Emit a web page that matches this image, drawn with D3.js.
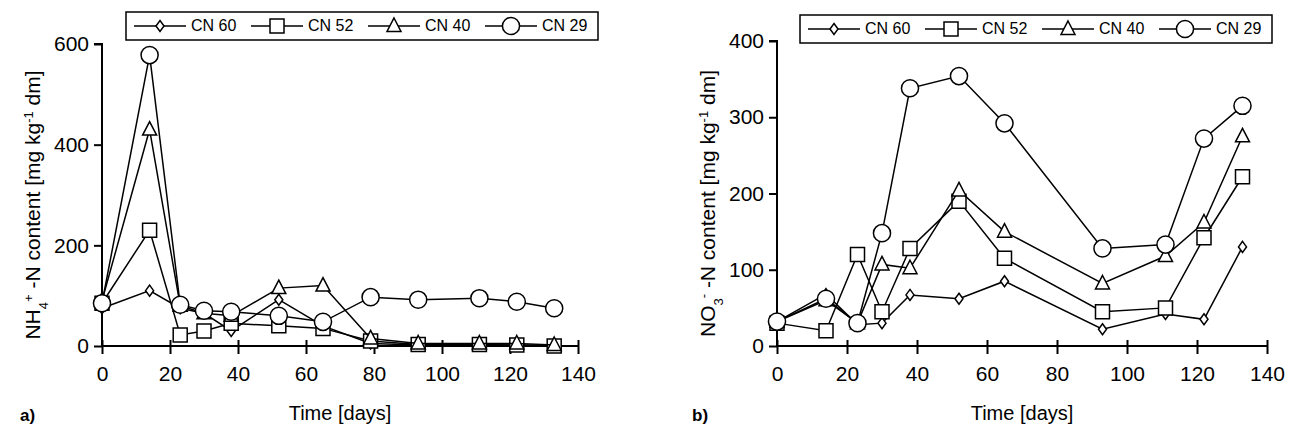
<!DOCTYPE html>
<html><head><meta charset="utf-8">
<script src="https://cdn.jsdelivr.net/npm/d3@7"></script>
<style>body{margin:0;background:#fff}text{font-family:"Liberation Sans Narrow","Liberation Sans",Arial,sans-serif;fill:#000}</style>
</head><body>
<svg id="chart" width="1290" height="430"></svg>
<script>
const seriesNames = ['CN 60', 'CN 52', 'CN 40', 'CN 29'];
const symbols = ['diamond', 'square', 'triangle', 'circle'];
const daysA = [0, 14, 23, 30, 38, 52, 65, 79, 93, 111, 122, 133];
const nh4 = [
  [75, 110, 75, 65, 30, 92, 40, 5, 2, 2, 2, 0],
  [85, 230, 22, 30, 45, 40, 35, 10, 3, 3, 2, 0],
  [90, 430, 80, 65, 60, 115, 120, 15, 5, 5, 5, 2],
  [85, 578, 82, 70, 68, 60, 48, 97, 92, 95, 88, 75]
];
const daysB = [0, 14, 23, 30, 38, 52, 65, 93, 111, 122, 133];
const no3 = [
  [32, 68, 28, 30, 67, 62, 85, 22, 42, 35, 130],
  [30, 20, 120, 45, 128, 190, 115, 45, 50, 142, 222],
  [32, 60, 30, 107, 102, 204, 150, 82, 118, 162, 275],
  [32, 62, 30, 148, 338, 354, 292, 128, 133, 272, 315]
];
const xTicks = [0, 20, 40, 60, 80, 100, 120, 140];

const svg = d3.select('#chart');

function symbolPath(kind) {
  if (kind === 'diamond') return 'M0,-5.5L4,0L0,5.5L-4,0Z';
  if (kind === 'square') return 'M-7,-7H7V7H-7Z';
  if (kind === 'triangle') return 'M0,-8L7,5.5H-7Z';
  return d3.symbol(d3.symbolCircle, 230)();
}

function panel(o) {
  const g = svg.append('g');
  const x = d3.scaleLinear().domain([0, 140]).range([o.x0, o.x1]);
  const y = d3.scaleLinear().domain([0, o.ymax]).range([346, o.ytop]);

  g.append('g').attr('transform', `translate(${o.x0},0)`)
    .call(d3.axisLeft(y).tickValues(o.yTicks).tickSize(8).tickPadding(5))
    .call(a => a.select('.domain').attr('stroke-width', 2).attr('d', `M-8,${o.ytop}H0V346`))
    .call(a => a.selectAll('.tick line').attr('stroke-width', 2))
    .call(a => a.selectAll('text').style('font-size', '21px'));

  g.append('g').attr('transform', 'translate(0,346)')
    .call(d3.axisBottom(x).tickValues(xTicks).tickSize(8).tickPadding(12))
    .call(a => a.select('.domain').attr('stroke-width', 2).attr('d', `M${o.x0},0H${o.x1}`))
    .call(a => a.selectAll('.tick line').attr('stroke-width', 2).attr('y1', -6))
    .call(a => a.selectAll('text').style('font-size', '21px'));

  o.data.forEach((vals, i) => {
    const pts = vals.map((v, j) => [x(o.days[j]), y(v)]);
    g.append('path').attr('d', d3.line()(pts)).attr('fill', 'none')
      .attr('stroke', '#000').attr('stroke-width', 1.5);
    g.selectAll(null).data(pts).join('path')
      .attr('transform', d => `translate(${d[0]},${d[1]})`)
      .attr('d', symbolPath(symbols[i]))
      .attr('fill', '#fff').attr('stroke', '#000').attr('stroke-width', 1.5);
  });

  g.append('text').attr('x', (o.x0 + o.x1) / 2).attr('y', 420)
    .attr('text-anchor', 'middle').style('font-size', '20px').text('Time [days]');
  g.append('text').attr('x', o.labelX).attr('y', 421)
    .style('font-size', '17px').style('font-weight', 'bold').text(o.letter);

  const yl = g.append('text').attr('transform', `translate(${o.x0 - 62},${(346 + o.ytop) / 2 + 10}) rotate(-90)`)
    .attr('text-anchor', 'middle').style('font-size', '21px');
  yl.append('tspan').text(o.ion[0]);
  yl.append('tspan').attr('baseline-shift', 'sub').style('font-size', '13px').text(o.ion[1]);
  yl.append('tspan').attr('baseline-shift', 'super').style('font-size', '13px').text(o.ion[2]);
  yl.append('tspan').text(' -N content [mg kg');
  yl.append('tspan').attr('baseline-shift', 'super').style('font-size', '13px').text('-1');
  yl.append('tspan').text('  dm]');

  const lg = g.append('g').attr('transform', `translate(${o.lx},${o.ly})`);
  lg.append('rect').attr('width', 472).attr('height', 28).attr('fill', '#fff')
    .attr('stroke', '#000').attr('stroke-width', 1.5);
  seriesNames.forEach((n, i) => {
    const gx = 8 + i * 117;
    lg.append('line').attr('x1', gx).attr('x2', gx + 52).attr('y1', 14).attr('y2', 14)
      .attr('stroke', '#000').attr('stroke-width', 1.5);
    lg.append('path').attr('transform', `translate(${gx + 26},14)`).attr('d', symbolPath(symbols[i]))
      .attr('fill', '#fff').attr('stroke', '#000').attr('stroke-width', 1.5);
    lg.append('text').attr('x', gx + 57).attr('y', 19).style('font-size', '16px').text(n);
  });
}

panel({ x0: 102, x1: 578, ymax: 600, ytop: 44, yTicks: [0, 200, 400, 600], data: nh4, days: daysA,
  ion: ['NH', '4', '+'], letter: 'a)', labelX: 20, lx: 126, ly: 12 });
panel({ x0: 777, x1: 1267, ymax: 400, ytop: 41, yTicks: [0, 100, 200, 300, 400], data: no3, days: daysB,
  ion: ['NO', '3', '-'], letter: 'b)', labelX: 692, lx: 800, ly: 15 });
</script>
</body></html>
